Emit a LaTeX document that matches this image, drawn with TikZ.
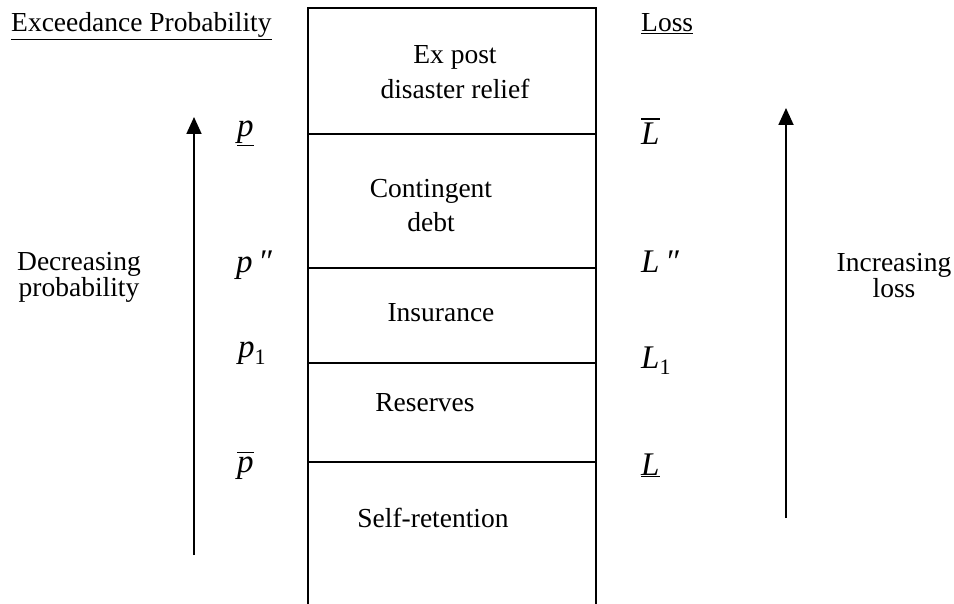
\documentclass[tikz,border=0pt]{standalone}
\usepackage{fontspec}
\setmainfont{Liberation Serif}
\usetikzlibrary{arrows.meta}
\newcommand{\barover}[1]{\vbox{\hrule height 1.4pt\kern 3.5pt\hbox{#1}}}
\begin{document}
\begin{tikzpicture}[x=1pt,y=-1pt,
  lbl/.style={inner sep=0pt,anchor=base,font=\fontsize{27.5}{32}\selectfont},
  lbll/.style={lbl,anchor=base west},
  mth/.style={inner sep=0pt,anchor=base west,font=\fontsize{33}{38}\selectfont\itshape},
  rule/.style={line width=1.8pt},
  arr/.style={line width=1.8pt,-{Triangle[length=17pt,width=15pt]}}]
\useasboundingbox (0,0) rectangle (954,604);
% column outline
\coordinate (tl) at (308,8);
\coordinate (tr) at (596,8);
\coordinate (bl) at (308,604);
\coordinate (br) at (596,604);
\draw[rule] (bl) -- (tl) -- (tr) -- (br);
% dividers
\coordinate (d1l) at (308,134); \coordinate (d1r) at (596,134);
\coordinate (d2l) at (308,268); \coordinate (d2r) at (596,268);
\coordinate (d3l) at (308,363); \coordinate (d3r) at (596,363);
\coordinate (d4l) at (308,462); \coordinate (d4r) at (596,462);
\draw[rule] (d1l) -- (d1r);
\draw[rule] (d2l) -- (d2r);
\draw[rule] (d3l) -- (d3r);
\draw[rule] (d4l) -- (d4r);
% headings
\node[lbll] (hdP) at (11,32) {\underline{Exceedance Probability}};
\node[lbll] (hdL) at (641,32) {\underline{Loss}};
% column texts
\node[lbl] (ex1) at (455,64) {Ex post};
\node[lbl] (ex2) at (455,99) {disaster relief};
\node[lbl] (cd1) at (431,198) {Contingent};
\node[lbl] (cd2) at (431,232) {debt};
\node[lbl] (ins) at (441,322) {Insurance};
\node[lbl] (res) at (425,411) {Reserves};
\node[lbl] (sr) at (433,527) {Self-retention};
% side texts
\node[lbl] (dp1) at (79,271) {Decreasing};
\node[lbl] (dp2) at (79,297) {probability};
\node[lbl] (il1) at (894,272) {Increasing};
\node[lbl] (il2) at (894,298) {loss};
% probability labels
\node[mth] (pU) at (237,137) {\underline{p}};
\node[mth] (pDD) at (236,273) {p\,\char"2033};
\node[mth] (p1) at (238,358) {p\raisebox{-0.2em}{\upshape\fontsize{22}{24}\selectfont 1}};
\node[mth] (pO) at (237,472) {\barover{p}};
% loss labels
\node[mth] (LO) at (641,145) {\barover{L}};
\node[mth] (LDD) at (641,273) {L\,\char"2033};
\node[mth] (L1) at (641,368) {L\raisebox{-0.2em}{\upshape\fontsize{22}{24}\selectfont 1}};
\node[mth] (LU) at (641,475) {\underline{L}};
% arrows
\coordinate (aLs) at (194,555); \coordinate (aLe) at (194,117);
\coordinate (aRs) at (786,518); \coordinate (aRe) at (786,108);
\draw[arr] (aLs) -- (aLe);
\draw[arr] (aRs) -- (aRe);
\end{tikzpicture}
\end{document}
